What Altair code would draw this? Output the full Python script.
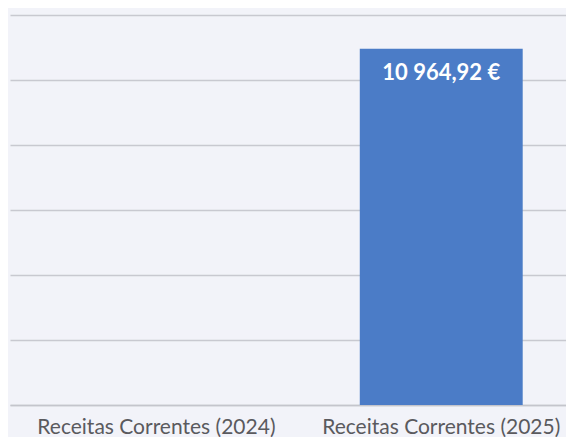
import altair as alt
import pandas as pd

categories = ["Receitas Correntes (2024)", "Receitas Correntes (2025)"]
values = [0.0, 10964.92]
labels = ["", "10 964,92 €"]
y_ticks = [0, 2000, 4000, 6000, 8000, 10000, 12000]

df = pd.DataFrame({"cat": categories, "val": values, "lab": labels})

x = alt.X("cat:N", sort=categories,
          scale=alt.Scale(domain=categories, paddingInner=0.428, paddingOuter=0.19, align=0.6),
          axis=alt.Axis(title=None, labelAngle=0, ticks=False, domain=True,
                        domainColor="#c4c5cc", domainWidth=1.5,
                        labelFont="Lato", labelFontSize=21, labelColor="#5a5a5e",
                        labelPadding=11, labelLimit=400))
y = alt.Y("val:Q", scale=alt.Scale(domain=[0, 12000], nice=False),
          axis=alt.Axis(title=None, values=y_ticks, labels=False, ticks=False, domain=False,
                        grid=True, gridColor="#c8c9d0", gridWidth=1.5))

bars = alt.Chart(df).mark_bar(color="#4b7cc7").encode(x=x, y=y)

text = alt.Chart(df).transform_filter("datum.val > 0").mark_text(
    baseline="top", dy=14, color="white", font="Lato", fontSize=22, fontWeight="bold"
).encode(x=alt.X("cat:N", sort=categories), y="val:Q", text="lab:N")

chart = alt.layer(bars, text).properties(
    width=556, height=390,
    padding={"left": 2, "top": 7, "right": 0, "bottom": 0},
    background="#f2f3f9",
).configure_view(stroke=None)

chart.save("out.html", embed_options={"renderer": "svg", "actions": False})
